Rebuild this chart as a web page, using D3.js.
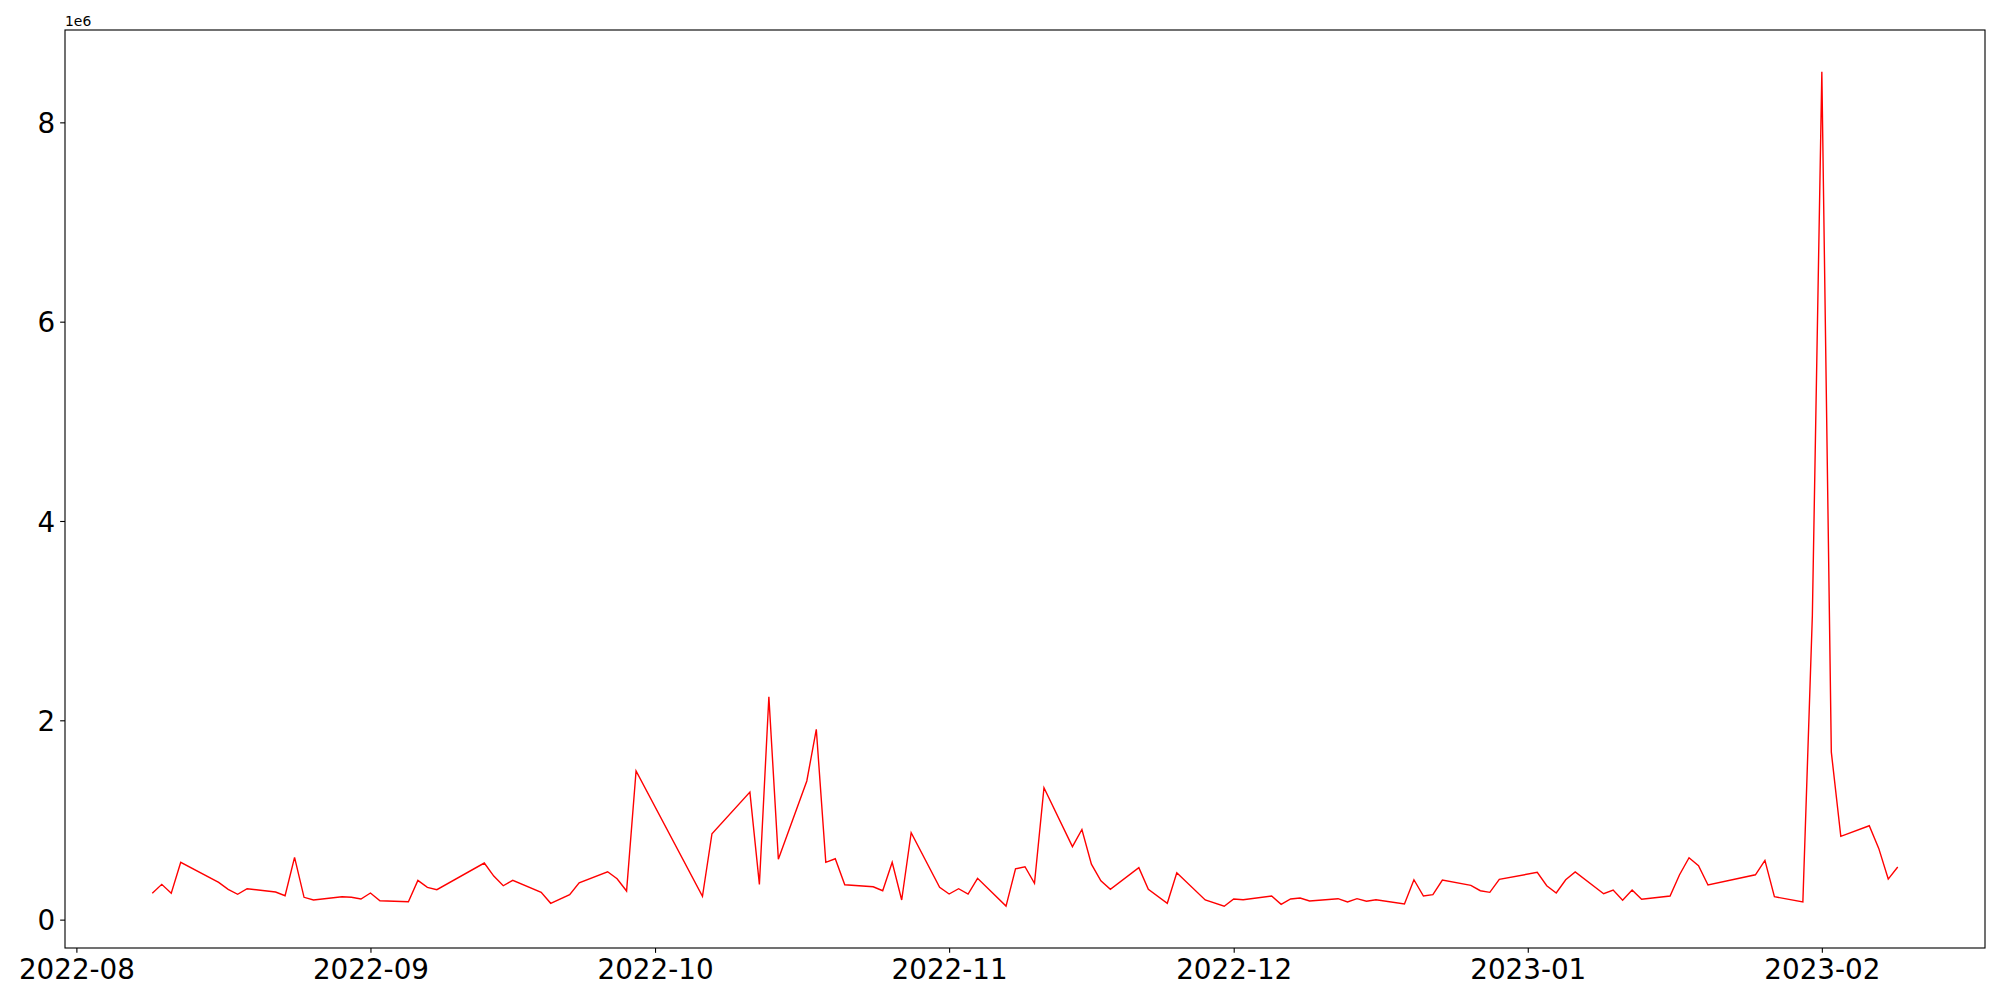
<!DOCTYPE html>
<html>
<head>
<meta charset="utf-8">
<script src="https://cdn.jsdelivr.net/npm/d3@7"></script>
<style>
  body { margin: 0; background: #fff; }
  svg { display: block; }
  .axis path, .axis line { stroke: #000; stroke-width: 1.11px; }
</style>
</head>
<body>
<svg id="main"></svg>
<script>
// dates and values (in units of 1e6)
var dates = [
  "2022-08-09","2022-08-10","2022-08-11","2022-08-12","2022-08-16","2022-08-17","2022-08-18","2022-08-19",
  "2022-08-22","2022-08-23","2022-08-24","2022-08-25","2022-08-26","2022-08-29","2022-08-30","2022-08-31",
  "2022-09-01","2022-09-02","2022-09-05","2022-09-06","2022-09-07","2022-09-08","2022-09-13","2022-09-14",
  "2022-09-15","2022-09-16","2022-09-19","2022-09-20","2022-09-22","2022-09-23","2022-09-26","2022-09-27",
  "2022-09-28","2022-09-29","2022-10-06","2022-10-07","2022-10-11","2022-10-12","2022-10-13","2022-10-14",
  "2022-10-17","2022-10-18","2022-10-19","2022-10-20","2022-10-21","2022-10-24","2022-10-25","2022-10-26",
  "2022-10-27","2022-10-28","2022-10-31","2022-11-01","2022-11-02","2022-11-03","2022-11-04","2022-11-07",
  "2022-11-08","2022-11-09","2022-11-10","2022-11-11","2022-11-14","2022-11-15","2022-11-16","2022-11-17",
  "2022-11-18","2022-11-21","2022-11-22","2022-11-24","2022-11-25","2022-11-28","2022-11-30","2022-12-01",
  "2022-12-02","2022-12-05","2022-12-06","2022-12-07","2022-12-08","2022-12-09","2022-12-12","2022-12-13",
  "2022-12-14","2022-12-15","2022-12-16","2022-12-19","2022-12-20","2022-12-21","2022-12-22","2022-12-23",
  "2022-12-26","2022-12-27","2022-12-28","2022-12-29","2023-01-02","2023-01-03","2023-01-04","2023-01-05",
  "2023-01-06","2023-01-09","2023-01-10","2023-01-11","2023-01-12","2023-01-13","2023-01-16","2023-01-17",
  "2023-01-18","2023-01-19","2023-01-20","2023-01-25","2023-01-26","2023-01-27","2023-01-30","2023-01-31",
  "2023-02-01","2023-02-02","2023-02-03","2023-02-06","2023-02-07","2023-02-08","2023-02-09"
];
var values = [
  0.264,0.354,0.264,0.575,0.374,0.304,0.254,0.310,
  0.277,0.240,0.625,0.224,0.197,0.230,0.224,0.207,
  0.267,0.190,0.180,0.394,0.324,0.300,0.568,0.437,
  0.340,0.394,0.274,0.164,0.250,0.370,0.480,0.410,
  0.287,1.491,0.234,0.862,1.280,0.354,2.237,0.605,
  1.391,1.910,0.575,0.611,0.350,0.330,0.290,0.575,
  0.197,0.872,0.324,0.257,0.310,0.257,0.414,0.136,
  0.510,0.531,0.364,1.324,0.732,0.904,0.556,0.390,
  0.304,0.521,0.304,0.164,0.471,0.197,0.134,0.207,
  0.200,0.237,0.153,0.207,0.217,0.187,0.210,0.177,
  0.210,0.184,0.200,0.157,0.400,0.237,0.250,0.397,
  0.344,0.290,0.274,0.404,0.474,0.340,0.267,0.400,
  0.478,0.260,0.297,0.194,0.297,0.204,0.237,0.450,
  0.621,0.541,0.347,0.450,0.595,0.230,0.177,3.050,
  8.508,1.680,0.836,0.942,0.715,0.407,0.528
];
var yTicks = [0, 2, 4, 6, 8];
var xTickLabels = ["2022-08","2022-09","2022-10","2022-11","2022-12","2023-01","2023-02"];

var w = 2000;
var h = 1000;
var padLeft = 65, padRight = 1985, padTop = 30, padBottom = 948;
var font = "DejaVu Sans";

var svg = d3.select("#main")
  .attr("width", w)
  .attr("height", h);

var parse = d3.timeParse("%Y-%m-%d");
var data = dates.map(function(d, i) { return { date: parse(d), value: values[i] * 1e6 }; });

// matplotlib style 5% margins
var tMin = d3.min(data, function(d) { return +d.date; });
var tMax = d3.max(data, function(d) { return +d.date; });
var tPad = (tMax - tMin) * 0.05;
var vMin = d3.min(data, function(d) { return d.value; });
var vMax = d3.max(data, function(d) { return d.value; });
var vPad = (vMax - vMin) * 0.05;

var xScale = d3.scaleTime()
  .domain([new Date(tMin - tPad), new Date(tMax + tPad)])
  .range([padLeft, padRight]);

var yScale = d3.scaleLinear()
  .domain([vMin - vPad, vMax + vPad])
  .range([padBottom, padTop]);

var line = d3.line()
  .x(function(d) { return xScale(d.date); })
  .y(function(d) { return yScale(d.value); });

svg.append("path")
  .datum(data)
  .attr("fill", "none")
  .attr("stroke", "#ff0000")
  .attr("stroke-width", 1.4)
  .attr("stroke-linejoin", "miter")
  .attr("d", line);

var xAxis = d3.axisBottom(xScale)
  .tickValues(xTickLabels.map(function(s) { return parse(s + "-01"); }))
  .tickFormat(d3.timeFormat("%Y-%m"))
  .tickSize(4.86)
  .tickPadding(4.86)
  .tickSizeOuter(0);

var yAxis = d3.axisLeft(yScale)
  .tickValues(yTicks.map(function(v) { return v * 1e6; }))
  .tickFormat(function(v) { return v / 1e6; })
  .tickSize(4.86)
  .tickPadding(4.86)
  .tickSizeOuter(0);

var gx = svg.append("g")
  .attr("class", "axis")
  .attr("transform", "translate(0," + padBottom + ")")
  .call(xAxis)
  .attr("font-family", font)
  .attr("font-size", 27.78);
gx.select(".domain").remove();
gx.selectAll("text")
  .attr("dy", "0.76em")
  .style("font-family", font)
  .style("font-size", "27.78px")
  .style("fill", "#000");

var gy = svg.append("g")
  .attr("class", "axis")
  .attr("transform", "translate(" + padLeft + ",0)")
  .call(yAxis)
  .attr("font-family", font)
  .attr("font-size", 27.78);
gy.select(".domain").remove();
gy.selectAll("text")
  .attr("dy", "0.36em")
  .style("font-family", font)
  .style("font-size", "27.78px")
  .style("fill", "#000");

// frame
svg.append("rect")
  .attr("x", padLeft)
  .attr("y", padTop)
  .attr("width", padRight - padLeft)
  .attr("height", padBottom - padTop)
  .attr("fill", "none")
  .attr("stroke", "#000")
  .attr("stroke-width", 1.11);

// offset text
svg.append("text")
  .attr("x", padLeft)
  .attr("y", 26)
  .style("font-family", font)
  .style("font-size", "13.9px")
  .text("1e6");
</script>
</body>
</html>
